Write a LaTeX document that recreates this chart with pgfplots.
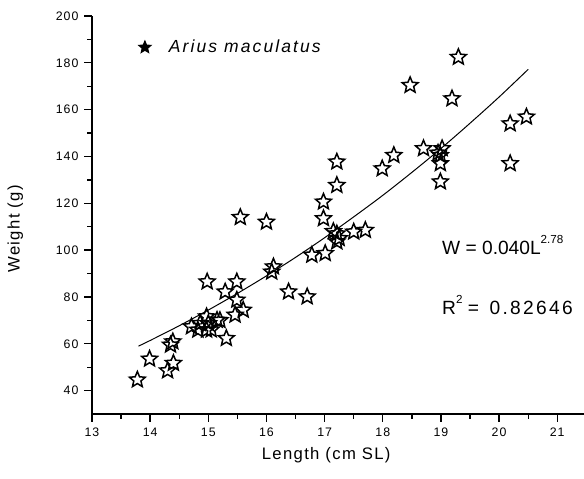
\documentclass[border=0pt]{standalone}
\usepackage{fontspec}
\setmainfont{Liberation Sans}
\newfontfamily\spaced{Liberation Sans}[LetterSpace=8]
\newfontfamily\wide{Liberation Sans}[LetterSpace=12]
\usepackage{pgfplots}
\pgfplotsset{compat=1.18}
\pgfdeclareplotmark{ostar}{%
  \pgfpathmoveto{\pgfpointpolar{90}{\pgfplotmarksize}}%
  \pgfpathlineto{\pgfpointpolar{126}{0.45\pgfplotmarksize}}%
  \pgfpathlineto{\pgfpointpolar{162}{\pgfplotmarksize}}%
  \pgfpathlineto{\pgfpointpolar{198}{0.45\pgfplotmarksize}}%
  \pgfpathlineto{\pgfpointpolar{234}{\pgfplotmarksize}}%
  \pgfpathlineto{\pgfpointpolar{270}{0.45\pgfplotmarksize}}%
  \pgfpathlineto{\pgfpointpolar{306}{\pgfplotmarksize}}%
  \pgfpathlineto{\pgfpointpolar{342}{0.45\pgfplotmarksize}}%
  \pgfpathlineto{\pgfpointpolar{18}{\pgfplotmarksize}}%
  \pgfpathlineto{\pgfpointpolar{54}{0.45\pgfplotmarksize}}%
  \pgfpathclose\pgfusepathqstroke}
\pgfdeclareplotmark{fstar}{%
  \pgfpathmoveto{\pgfpointpolar{90}{\pgfplotmarksize}}%
  \pgfpathlineto{\pgfpointpolar{126}{0.45\pgfplotmarksize}}%
  \pgfpathlineto{\pgfpointpolar{162}{\pgfplotmarksize}}%
  \pgfpathlineto{\pgfpointpolar{198}{0.45\pgfplotmarksize}}%
  \pgfpathlineto{\pgfpointpolar{234}{\pgfplotmarksize}}%
  \pgfpathlineto{\pgfpointpolar{270}{0.45\pgfplotmarksize}}%
  \pgfpathlineto{\pgfpointpolar{306}{\pgfplotmarksize}}%
  \pgfpathlineto{\pgfpointpolar{342}{0.45\pgfplotmarksize}}%
  \pgfpathlineto{\pgfpointpolar{18}{\pgfplotmarksize}}%
  \pgfpathlineto{\pgfpointpolar{54}{0.45\pgfplotmarksize}}%
  \pgfpathclose\pgfusepathqfillstroke}
\begin{document}
\begin{tikzpicture}
\useasboundingbox (-55.2pt,-38.4pt) rectangle (295.2pt,248.4pt);
\begin{axis}[
  scale only axis,
  width=295.2pt, height=238.8pt,
  xmin=13, xmax=21.46, ymin=30, ymax=200,
  axis x line*=bottom, axis y line*=left,
  axis line style={-, line width=0.9pt},
  every outer x axis line/.append style={-},
  every outer y axis line/.append style={-},
  xtick={13,14,...,21}, ytick={40,60,...,200},
  minor x tick num=1, minor y tick num=1,
  tick align=outside,
  major tick length=4.6pt, minor tick length=2.8pt,
  tick style={line width=0.8pt, black},
  /pgf/number format/assume math mode=true,
  tick label style={font=\fontsize{7.4}{8}\selectfont\spaced},
  xlabel={Length (cm SL)}, ylabel={Weight (g)},
  label style={font=\fontsize{10}{12}\selectfont\spaced},
  xlabel style={at={(axis description cs:0.476,0)}, anchor=center, yshift=-24.6pt},
  ylabel style={at={(axis description cs:-0.156,0.465)}, anchor=center},
  legend style={at={(axis cs:13.72,186.6)}, anchor=west, draw=none, fill=none,
    font=\fontsize{10.5}{12}\selectfont\itshape\wide},
  legend cell align=left,
  clip=false,
]
\addlegendimage{only marks, mark=fstar, mark size=3.6pt, line width=0.8pt, fill=black}
\addlegendentry{\hspace{9pt}Arius maculatus}
\addplot[forget plot, only marks, mark=ostar, mark size=5pt, line width=0.9pt] table {
x y
13.78 44.6
13.99 53.5
14.30 48.5
14.40 51.7
14.39 60.9
14.35 59.5
14.71 67.3
14.82 65.9
14.86 68.7
14.97 71.6
15.00 68.7
15.15 70.1
15.05 66.0
14.97 65.9
15.20 70.0
15.31 62.3
14.98 86.5
15.29 82.2
15.49 86.5
15.49 78.7
15.60 74.4
15.46 72.3
15.55 114
16.00 112
16.09 90.7
16.12 92.9
16.38 82.2
16.70 80.1
16.78 97.9
17.01 98.6
16.98 113.5
16.98 120.6
17.21 127.7
17.21 137.7
17.21 107
17.15 108
17.25 105
17.21 103.6
17.50 107.8
17.70 108.5
17.99 134.8
18.19 140.5
18.47 170.4
18.70 143.4
19.02 143.4
18.95 141.5
18.99 140.5
18.99 137
18.99 129.2
19.19 164.7
19.30 182.4
20.19 154
20.47 156.9
20.19 137
};
\addplot[forget plot, smooth, line width=0.6pt, black] coordinates {
(13.8,59.0) (14,61.4) (14.5,67.7) (15,74.4) (15.5,81.5) (16,89.0) (16.5,96.9)
(17,105.3) (17.5,114.2) (18,123.4) (18.5,133.2) (19,143.4) (19.5,154.2)
(20,165.4) (20.5,177.2)
};
\node[anchor=west, font=\fontsize{11.5}{13}\selectfont] at (axis cs:18.92,102.1)
  {W = 0.040L\raisebox{1.1ex}{\fontsize{7}{8}\selectfont 2.78}};
\node[anchor=west, font=\fontsize{11.5}{13}\selectfont] at (axis cs:18.92,76.5)
  {R\raisebox{1.1ex}{\fontsize{7}{8}\selectfont 2} =\ \ {\wide 0.82646}};
\end{axis}
\end{tikzpicture}
\end{document}
